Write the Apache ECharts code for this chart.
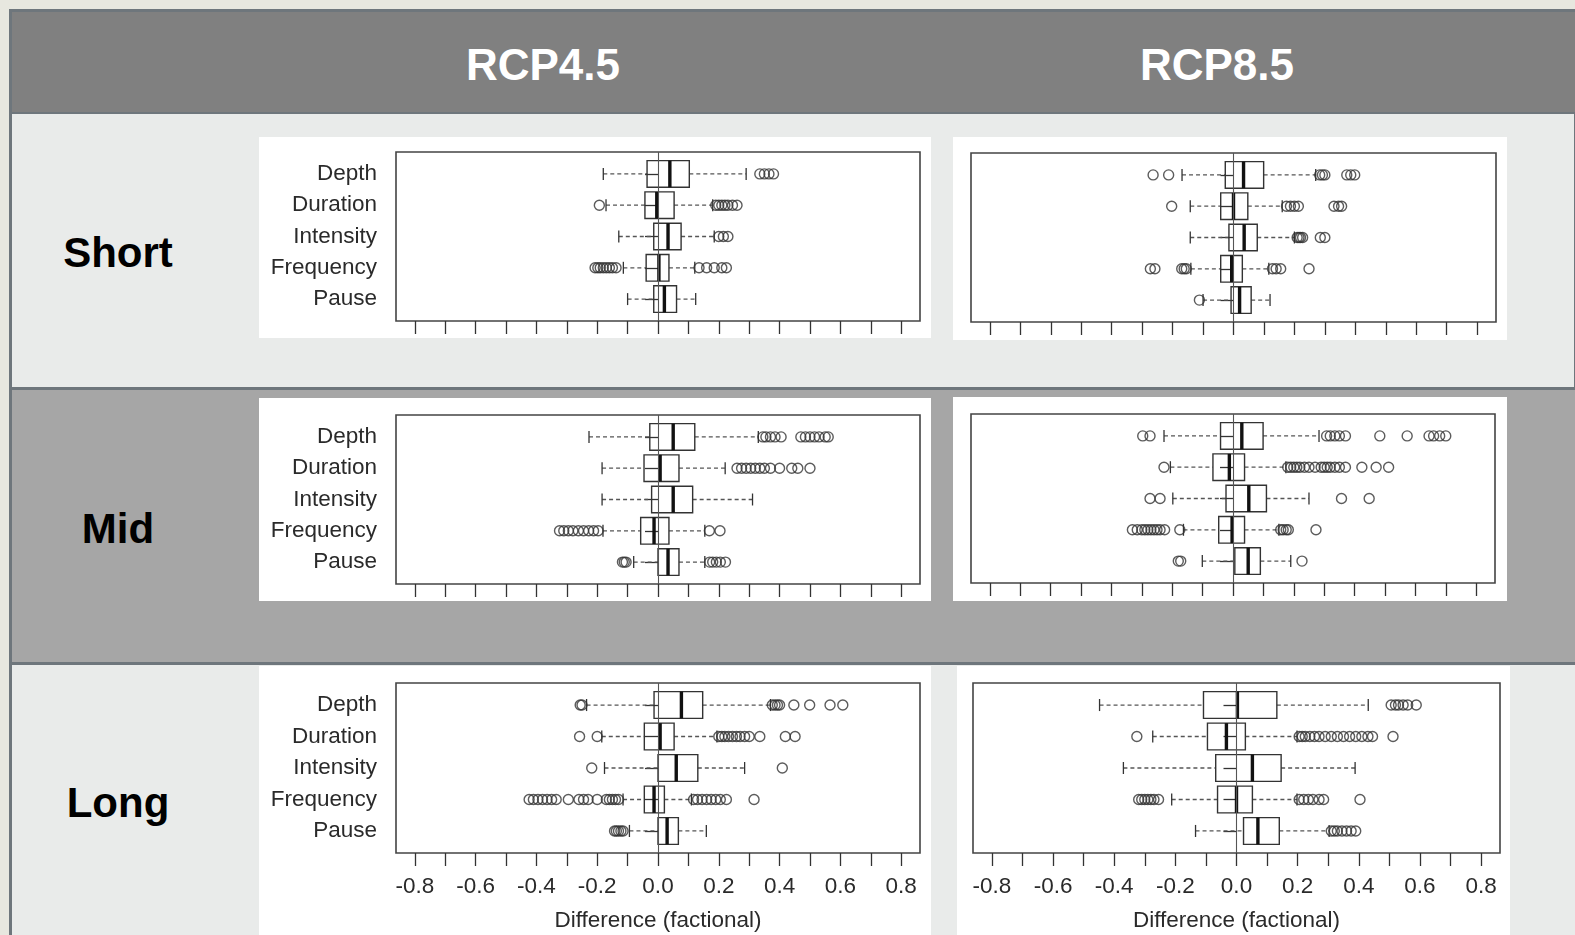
<!DOCTYPE html>
<html>
<head>
<meta charset="utf-8">
<script src="https://cdn.jsdelivr.net/npm/echarts/dist/echarts.min.js"></script>
<style>
  html, body { margin: 0; padding: 0; }
  body { width: 1575px; height: 935px; overflow: hidden; background: #e7e7df; position: relative;
         font-family: 'Liberation Sans', Arial, sans-serif; }
  .abs { position: absolute; }
  .cell-text { position: absolute; transform: translate(-50%, -50%); font-weight: bold; line-height: 1; white-space: nowrap; }
  .head { color: #fff; font-size: 44px; }
  .rowlab { color: #000; font-size: 42px; }
  .panel { position: absolute; background: #fff; overflow: hidden; }
</style>
</head>
<body>
<!-- table frame -->
<div class="abs" style="left:9px;top:9px;width:1566px;height:926px;background:#6e767c"></div>
<div class="abs" style="left:12px;top:12px;width:1563px;height:100px;background:#808080"></div>
<div class="abs" style="left:12px;top:114px;width:1562px;height:273px;background:#e9ebea"></div>
<div class="abs" style="left:12px;top:390px;width:1563px;height:272px;background:#a6a6a6"></div>
<div class="abs" style="left:12px;top:665px;width:1563px;height:270px;background:#e9ebea"></div>

<div class="cell-text head" style="left:543px;top:65px">RCP4.5</div>
<div class="cell-text head" style="left:1217px;top:65px">RCP8.5</div>
<div class="cell-text rowlab" style="left:118px;top:253px">Short</div>
<div class="cell-text rowlab" style="left:118px;top:529px">Mid</div>
<div class="cell-text rowlab" style="left:118px;top:803px">Long</div>

<div id="sl" class="panel" style="left:259px;top:137px;width:672px;height:201px"></div>
<div id="sr" class="panel" style="left:953px;top:137px;width:554px;height:203px"></div>
<div id="ml" class="panel" style="left:259px;top:398px;width:672px;height:203px"></div>
<div id="mr" class="panel" style="left:953px;top:397px;width:554px;height:204px"></div>
<div id="ll" class="panel" style="left:259px;top:666px;width:672px;height:269px"></div>
<div id="lr" class="panel" style="left:957px;top:666px;width:553px;height:269px"></div>

<script>
// categories, top to bottom
const categories = ['Depth', 'Duration', 'Intensity', 'Frequency', 'Pause'];
const xTicks = [-0.8, -0.7, -0.6, -0.5, -0.4, -0.3, -0.2, -0.1, 0, 0.1, 0.2, 0.3, 0.4, 0.5, 0.6, 0.7, 0.8];
const xLabels = [-0.8, -0.6, -0.4, -0.2, 0, 0.2, 0.4, 0.6, 0.8];
const xTitle = 'Difference (factional)';

// box stats: [lower whisker, Q1, median, Q3, upper whisker]
const shortRcp45 = [
  [-0.180, -0.036, 0.039, 0.103, 0.290],
  [-0.171, -0.043, -0.004, 0.053, 0.180],
  [-0.129, -0.014, 0.033, 0.076, 0.185],
  [-0.114, -0.039, 0.003, 0.036, 0.121],
  [-0.100, -0.014, 0.021, 0.061, 0.124]
];
const shortRcp45Out = [
  [0.335, 0.350, 0.365, 0.380],
  [-0.193, 0.190, 0.200, 0.210, 0.220, 0.230, 0.245, 0.260],
  [0.200, 0.215, 0.230],
  [-0.207, -0.198, -0.190, -0.180, -0.170, -0.160, -0.150, -0.138, 0.135, 0.160, 0.185, 0.210, 0.225],
  []
];
const shortRcp85 = [
  [-0.169, -0.027, 0.033, 0.099, 0.270],
  [-0.142, -0.042, 0.000, 0.047, 0.160],
  [-0.142, -0.015, 0.035, 0.078, 0.200],
  [-0.140, -0.042, -0.006, 0.029, 0.116],
  [-0.100, -0.008, 0.020, 0.058, 0.120]
];
const shortRcp85Out = [
  [-0.264, -0.213, 0.283, 0.292, 0.300, 0.372, 0.385, 0.398],
  [-0.203, 0.174, 0.187, 0.200, 0.213, 0.330, 0.345, 0.355],
  [0.209, 0.215, 0.220, 0.227, 0.285, 0.300],
  [-0.273, -0.258, -0.170, -0.162, -0.155, 0.128, 0.140, 0.155, 0.248],
  [-0.112]
];
const midRcp45 = [
  [-0.227, -0.027, 0.050, 0.121, 0.330],
  [-0.184, -0.046, 0.007, 0.069, 0.221],
  [-0.184, -0.021, 0.050, 0.114, 0.311],
  [-0.181, -0.057, -0.013, 0.036, 0.154],
  [-0.080, 0.000, 0.033, 0.069, 0.154]
];
const midRcp45Out = [
  [0.345, 0.355, 0.370, 0.385, 0.405, 0.470, 0.485, 0.500, 0.515, 0.530, 0.550, 0.560],
  [0.260, 0.275, 0.290, 0.305, 0.320, 0.335, 0.350, 0.370, 0.400, 0.440, 0.460, 0.500],
  [],
  [-0.324, -0.310, -0.295, -0.280, -0.262, -0.245, -0.228, -0.212, -0.197, 0.169, 0.204],
  [-0.117, -0.111, -0.105, 0.170, 0.180, 0.192, 0.205, 0.222]
];
const midRcp85 = [
  [-0.227, -0.041, 0.029, 0.099, 0.283],
  [-0.206, -0.066, -0.012, 0.038, 0.174],
  [-0.198, -0.023, 0.052, 0.110, 0.250],
  [-0.163, -0.047, -0.003, 0.038, 0.151],
  [-0.101, 0.006, 0.050, 0.090, 0.190]
];
const midRcp85Out = [
  [-0.297, -0.273, 0.308, 0.320, 0.335, 0.350, 0.370, 0.483, 0.573, 0.645, 0.660, 0.680, 0.700],
  [-0.227, 0.180, 0.190, 0.200, 0.210, 0.220, 0.235, 0.250, 0.270, 0.290, 0.300, 0.310, 0.320, 0.335, 0.350, 0.370, 0.424, 0.471, 0.512],
  [-0.273, -0.240, 0.357, 0.448],
  [-0.331, -0.315, -0.300, -0.290, -0.280, -0.270, -0.260, -0.250, -0.240, -0.225, -0.175, 0.157, 0.165, 0.175, 0.182, 0.273],
  [-0.180, -0.172, 0.227]
];
const longRcp45 = [
  [-0.235, -0.013, 0.077, 0.147, 0.370],
  [-0.185, -0.045, 0.007, 0.053, 0.194],
  [-0.176, 0.000, 0.060, 0.131, 0.285],
  [-0.115, -0.045, -0.013, 0.021, 0.110],
  [-0.094, 0.000, 0.030, 0.067, 0.159]
];
const longRcp45Out = [
  [-0.256, -0.250, 0.376, 0.385, 0.393, 0.400, 0.447, 0.499, 0.566, 0.608],
  [-0.258, -0.200, 0.200, 0.210, 0.220, 0.232, 0.245, 0.258, 0.270, 0.285, 0.300, 0.335, 0.419, 0.451],
  [-0.218, 0.409],
  [-0.424, -0.410, -0.395, -0.380, -0.365, -0.350, -0.335, -0.295, -0.260, -0.245, -0.230, -0.200, -0.170, -0.160, -0.150, -0.140, -0.130, 0.117, 0.130, 0.145, 0.160, 0.175, 0.190, 0.205, 0.225, 0.316],
  [-0.143, -0.137, -0.130, -0.122, -0.115]
];
const longRcp85 = [
  [-0.448, -0.108, 0.003, 0.132, 0.431],
  [-0.274, -0.095, -0.033, 0.029, 0.198],
  [-0.370, -0.068, 0.052, 0.146, 0.388],
  [-0.212, -0.062, 0.000, 0.052, 0.198],
  [-0.134, 0.023, 0.070, 0.140, 0.303]
];
const longRcp85Out = [
  [0.506, 0.520, 0.530, 0.545, 0.560, 0.588],
  [-0.326, 0.205, 0.215, 0.225, 0.240, 0.255, 0.270, 0.290, 0.310, 0.330, 0.350, 0.370, 0.390, 0.410, 0.430, 0.445, 0.512],
  [],
  [-0.320, -0.310, -0.300, -0.290, -0.280, -0.270, -0.255, 0.205, 0.220, 0.235, 0.250, 0.270, 0.285, 0.404],
  [0.310, 0.320, 0.330, 0.345, 0.360, 0.375, 0.390]
];

const FONT = "'Liberation Sans', Arial, sans-serif";
const X_LIM = 0.862;
const INK = '#333';
const LABEL_SIZE = 22.5;

// 박스 그리기
function renderBox(params, api) {
  const y = api.value(0);
  const lo = api.coord([api.value(1), y]);
  const q1 = api.coord([api.value(2), y]);
  const md = api.coord([api.value(3), y]);
  const q3 = api.coord([api.value(4), y]);
  const hi = api.coord([api.value(5), y]);
  const half = api.size([0, 0.85])[1] / 2;
  const staple = half * 0.45;
  const cy = md[1];
  const dash = { stroke: '#555', lineWidth: 1.3, lineDash: [4, 3], fill: null };
  const solid = { stroke: INK, lineWidth: 1.3, fill: null };
  return {
    type: 'group',
    children: [
      { type: 'line', shape: { x1: lo[0], y1: cy, x2: q1[0], y2: cy }, style: dash },
      { type: 'line', shape: { x1: q3[0], y1: cy, x2: hi[0], y2: cy }, style: dash },
      { type: 'line', shape: { x1: lo[0], y1: cy - staple, x2: lo[0], y2: cy + staple }, style: solid },
      { type: 'line', shape: { x1: hi[0], y1: cy - staple, x2: hi[0], y2: cy + staple }, style: solid },
      { type: 'rect', shape: { x: q1[0], y: cy - half, width: q3[0] - q1[0], height: half * 2 },
        style: { fill: null, stroke: INK, lineWidth: 1.4 } },
      { type: 'line', shape: { x1: md[0], y1: cy - half, x2: md[0], y2: cy + half },
        style: { stroke: '#111', lineWidth: 3.4, fill: null } }
    ]
  };
}

const panels = [
  { id: 'sl', stats: shortRcp45, out: shortRcp45Out, frame: { l: 396, r: 920, t: 152, b: 321 }, yLabels: true, xLabels: false },
  { id: 'sr', stats: shortRcp85, out: shortRcp85Out, frame: { l: 971, r: 1496, t: 153, b: 322 }, yLabels: false, xLabels: false },
  { id: 'ml', stats: midRcp45, out: midRcp45Out, frame: { l: 396, r: 920, t: 415, b: 584 }, yLabels: true, xLabels: false },
  { id: 'mr', stats: midRcp85, out: midRcp85Out, frame: { l: 971, r: 1495, t: 414, b: 583 }, yLabels: false, xLabels: false },
  { id: 'll', stats: longRcp45, out: longRcp45Out, frame: { l: 396, r: 920, t: 683, b: 853 }, yLabels: true, xLabels: true },
  { id: 'lr', stats: longRcp85, out: longRcp85Out, frame: { l: 973, r: 1500, t: 683, b: 853 }, yLabels: false, xLabels: true }
];

panels.forEach((p) => {
  const el = document.getElementById(p.id);
  const chart = echarts.init(el);
  const px = el.offsetLeft, py = el.offsetTop;

  const boxData = p.stats.map((s, i) => [i + 1, ...s]);
  const outData = [];
  p.out.forEach((vals, i) => vals.forEach((v) => outData.push([v, i + 1])));

  const option = {
    animation: false,
    grid: {
      left: p.frame.l - px,
      top: p.frame.t - py,
      width: p.frame.r - p.frame.l,
      height: p.frame.b - p.frame.t,
      containLabel: false,
      outerBoundsMode: 'none',
      show: true,
      borderColor: '#444',
      borderWidth: 1.6,
      backgroundColor: 'transparent'
    },
    xAxis: {
      type: 'value',
      min: -X_LIM,
      max: X_LIM,
      axisLine: { show: false },
      splitLine: { show: false },
      axisTick: { show: true, customValues: xTicks, length: 13, lineStyle: { color: INK, width: 1.3 } },
      axisLabel: {
        show: p.xLabels,
        customValues: xLabels,
        formatter: (v) => Number(v).toFixed(1),
        fontSize: LABEL_SIZE,
        color: '#2a2a2a',
        margin: 22,
        fontFamily: FONT
      },
      name: p.xLabels ? xTitle : '',
      nameLocation: 'middle',
      nameGap: 56,
      nameTextStyle: { fontSize: LABEL_SIZE, color: '#2a2a2a', fontFamily: FONT }
    },
    yAxis: {
      type: 'value',
      min: 0.3,
      max: 5.7,
      inverse: true,
      axisLine: { show: false },
      splitLine: { show: false },
      axisTick: { show: true, customValues: [1, 2, 3, 4, 5], length: 13, lineStyle: { color: INK, width: 1.3 } },
      axisLabel: {
        show: p.yLabels,
        customValues: [1, 2, 3, 4, 5],
        formatter: (v) => categories[Math.round(v) - 1],
        fontSize: LABEL_SIZE,
        color: '#2a2a2a',
        margin: 19,
        fontFamily: FONT
      }
    },
    series: [
      {
        type: 'custom',
        renderItem: renderBox,
        data: boxData,
        encode: { x: [1, 2, 3, 4, 5], y: 0 },
        z: 2,
        silent: true,
        markLine: {
          silent: true,
          symbol: ['none', 'none'],
          label: { show: false },
          lineStyle: { color: '#555', width: 1.1, type: 'solid' },
          data: [{ xAxis: 0 }]
        }
      },
      {
        type: 'scatter',
        data: outData,
        symbol: 'circle',
        symbolSize: 10,
        z: 3,
        silent: true,
        itemStyle: { color: 'rgba(255,255,255,0)', borderColor: '#333', borderWidth: 1.4 }
      }
    ]
  };

  chart.setOption(option);
});
</script>
</body>
</html>
